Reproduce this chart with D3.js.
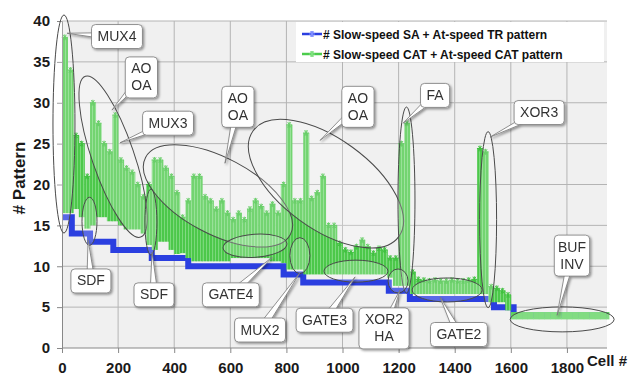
<!DOCTYPE html>
<html lang="en">
<head>
<meta charset="UTF-8">
<title>Patterns per cell</title>
<script src="https://cdn.jsdelivr.net/npm/d3@7/dist/d3.min.js"></script>
<style>
body { margin: 0; background: #fff; }
svg { display: block; font-family: Arial, "Liberation Sans", sans-serif; }
.tick text { font-weight: bold; font-size: 15px; fill: #1a1a1a; font-family: Arial, "Liberation Sans", sans-serif; }
.callout text { font-size: 14px; fill: #333; }
</style>
</head>
<body>
<script>
// cells are grouped in bins of 20, each bin keeps its highest and lowest pattern count
const binSize = 20
const greenHigh = [38, 34, 26, 25, 21, 30, 27.5, 25, 24, 28.5,
    23, 22, 21.5, 20, 18.5, 20, 23, 23, 22, 21,
    19, 16, 18, 21, 21, 18.5, 18, 17, 18, 16.5,
    15.7, 16.5, 15.7, 17, 18, 17.3, 16.5, 17.6, 16.5, 20,
    27.3, 18, 18, 26.3, 18.3, 19, 21, 15, 15, 12.8,
    12, 11.7, 12.4, 13.2, 12.4, 11.6, 12.2, 12, 11, 11,
    25, 27.5, 9.3, 8.4, 8.3, 8.2, 8.3, 8.2, 8.2, 8.3,
    8.2, 8.2, 8.3, 8.4, 24.4, 24, 7.5, 7.3, 7, 6.5,
    4.4, 4.4, 4.4, 4.4, 4.4, 4.4, 4.4, 4.4, 4.4, 4.4,
    4.4, 4.4, 4.4, 4.4, 4.4, 4.4, 4.4, 4.4]
const greenLow = [16.5, 16.5, 17, 16, 14.6, 15, 16, 16, 15.5, 15.5,
    15, 14.5, 14.5, 14.5, 14, 12.6, 12, 13, 13, 12,
    11.5, 11.6, 11, 10.6, 10.6, 10.6, 10.6, 10.6, 10.6, 10.6,
    11, 11, 11, 11, 11, 11, 11, 10.6, 10.6, 10.4,
    9.6, 9.6, 9.6, 9, 9, 9, 9, 9, 9, 9,
    9, 9, 9, 9, 9, 9, 9, 9, 8.6, 7.6,
    7.6, 7.6, 6.6, 6.6, 6.6, 6.6, 6.6, 6.6, 6.6, 6.6,
    6.6, 6.6, 6.6, 6.6, 6.6, 6.6, 5.6, 5.6, 5.6, 4.6,
    3.5, 3.5, 3.5, 3.5, 3.5, 3.5, 3.5, 3.5, 3.5, 3.5,
    3.5, 3.5, 3.5, 3.5, 3.5, 3.5, 3.5, 3.5]

// stuck-at + transition: one level per cell group
const blueStart = [0, 35, 100, 183, 320, 450, 790, 860, 1165, 1240, 1540, 1610]
const blueLevel = [16, 14, 13, 12, 11, 10, 9, 8, 7, 6, 5, 4]
const lastCell = 1950

const xTicks = [0, 200, 400, 600, 800, 1000, 1200, 1400, 1600, 1800]
const yTicks = [0, 5, 10, 15, 20, 25, 30, 35, 40]
const legendLabels = ["# Slow-speed SA + At-speed TR pattern", "# Slow-speed CAT + At-speed CAT pattern"]
const legendColors = ["#2b3fe0", "#4ccc4c"]

// cell-type groups: ellipse centre in (cell, pattern), ellipse radii in px, label box, pointer tip
const notes = [
    {text: ["MUX4"], c: [7, 27.4], r: [11, 109], rot: 0, box: [196, 38.1], tip: [18, 38.5]},
    {text: ["AO", "OA"], c: [182, 23.4], r: [21, 85], rot: -19, box: [283, 33.1], tip: [178, 29.1]},
    {text: ["MUX3"], c: null, box: [378, 27.5], tip: [207, 25.1]},
    {text: ["AO", "OA"], c: [556, 18.6], r: [82, 38], rot: 28, box: [627, 29.5], tip: [581, 22.6]},
    {text: ["AO", "OA"], c: [941, 20.1], r: [90, 45], rot: 36, box: [1055, 29.5], tip: [920, 25.4]},
    {text: ["FA"], c: [1228, 18.1], r: [8.5, 93], rot: 0, box: [1330, 30.9], tip: [1216, 27.5]},
    {text: ["XOR3"], c: [1519, 15.7], r: [8.5, 88], rot: 0, box: [1701, 28.8], tip: [1526, 25.8]},
    {text: ["SDF"], c: [98, 15.5], r: [7.5, 24], rot: 0, box: [103, 8.2], tip: [93, 13.2]},
    {text: ["SDF"], c: [317, 15.4], r: [6, 33], rot: 0, box: [328, 6.5], tip: [321, 11.7]},
    {text: ["GATE4"], c: [688, 12.5], r: [32, 11.5], rot: -4, box: [602, 6.5], tip: [749, 11.1]},
    {text: ["MUX2"], c: [848, 11.3], r: [10, 18], rot: 0, box: [706, 2.2], tip: [848, 9.2]},
    {text: ["GATE3"], c: [1048, 9.4], r: [32, 11], rot: 0, box: [936, 3.4], tip: [1045, 8.7]},
    {text: ["XOR2", "HA"], c: [1198, 8.2], r: [10, 12], rot: 0, box: [1148, 2.4], tip: [1205, 7.1]},
    {text: ["GATE2"], c: [1373, 7.1], r: [35, 12], rot: 0, box: [1415, 1.65], tip: [1348, 6.2]},
    {text: ["BUF", "INV"], c: [1783, 3.5], r: [52, 12.5], rot: 0, box: [1818, 11.3], tip: [1765, 4.0]}
]

const W = 639, H = 389
const svg = d3.select("body").append("svg").attr("width", W).attr("height", H)

const x = d3.scaleLinear().domain([0, lastCell]).range([62, 609])
const y = d3.scaleLinear().domain([0, 40]).range([348, 21])

const defs = svg.append("defs")
defs.append("filter").attr("id", "shadow")
    .attr("x", "-30%").attr("y", "-30%").attr("width", "160%").attr("height", "160%")
    .append("feDropShadow")
    .attr("dx", 1.5).attr("dy", 1.5).attr("stdDeviation", 1)
    .attr("flood-color", "#000").attr("flood-opacity", 0.4)
// thin vertical strokes, like a dense line of spikes
const pat = defs.append("pattern").attr("id", "spikes")
    .attr("patternUnits", "userSpaceOnUse").attr("width", 3).attr("height", 6)
pat.append("rect").attr("width", 3).attr("height", 6).attr("fill", "#7bd97b")
pat.append("rect").attr("width", 2).attr("height", 6).attr("fill", "#4cc84a")

// plot background + grid
svg.append("rect").attr("x", 62).attr("y", 21).attr("width", 607 - 62).attr("height", 348 - 21)
    .attr("fill", "#f0f0f0")
svg.append("g").selectAll("line").data(yTicks.slice(1)).join("line")
    .attr("x1", 62).attr("x2", 607).attr("y1", d => y(d)).attr("y2", d => y(d))
    .attr("stroke", "#b4b4b4")
svg.append("g").selectAll("line").data(xTicks.slice(1)).join("line")
    .attr("x1", d => x(d)).attr("x2", d => x(d)).attr("y1", 21).attr("y2", 348)
    .attr("stroke", "#b4b4b4")

// blue steps (drawn first, green sits on top of it)
const bluePts = blueStart.map((s, i) => [s, blueLevel[i]])
bluePts.push([lastCell, blueLevel[blueLevel.length - 1]])
svg.append("path")
    .attr("d", d3.line().x(d => x(d[0])).y(d => y(d[1])).curve(d3.curveStepAfter)(bluePts))
    .attr("fill", "none").attr("stroke", "#2b3fe0").attr("stroke-width", 6)

// green bins
const bins = greenHigh.map((h, i) => ({start: i * binSize, hi: h, lo: greenLow[i]}))
const g = svg.append("g")
g.selectAll("rect").data(bins).join("rect")
    .attr("x", d => x(d.start))
    .attr("width", d => x(Math.min(d.start + binSize, lastCell)) - x(d.start) + 0.4)
    .attr("y", d => y(d.hi))
    .attr("height", d => y(d.lo) - y(d.hi))
    .attr("fill", d => d.hi > 5 ? "url(#spikes)" : "#5fd25f")

const star = "M-3,0H3M-1.5,-2.6L1.5,2.6M-1.5,2.6L1.5,-2.6M0,-3V3"
g.selectAll(".mk").data(bins.filter(d => d.hi > 5)).join("path")
    .attr("class", "mk")
    .attr("transform", d => `translate(${x(d.start + binSize / 2)},${y(d.hi)})`)
    .attr("d", star).attr("stroke", "#3fc03f").attr("stroke-width", 1)

// axes
const yAxis = svg.append("g").attr("transform", "translate(62,0)")
    .call(d3.axisLeft(y).tickValues(yTicks).tickSize(5).tickPadding(7))
const xAxis = svg.append("g").attr("transform", "translate(0,348)")
    .call(d3.axisBottom(x).tickValues(xTicks).tickFormat(d3.format("d")).tickSize(5).tickPadding(9))
svg.selectAll(".domain, .tick line").attr("stroke", "#888")
xAxis.select(".domain").attr("d", "M62,0H607")

svg.append("text").attr("transform", "translate(21,178) rotate(-90)")
    .attr("text-anchor", "middle").attr("dominant-baseline", "middle")
    .attr("font-weight", "bold").attr("font-size", 17).attr("fill", "#1a1a1a")
    .text("# Pattern")
svg.append("text").attr("x", 587).attr("y", 366)
    .attr("font-weight", "bold").attr("font-size", 15).attr("fill", "#1a1a1a")
    .text("Cell #")

// legend
const leg = svg.append("g")
leg.append("rect").attr("x", 296).attr("y", 22).attr("width", 308).attr("height", 40).attr("fill", "#fff")
legendLabels.forEach((t, i) => {
    const ly = 34 + i * 20
    leg.append("line").attr("x1", 302).attr("x2", 322).attr("y1", ly).attr("y2", ly)
        .attr("stroke", legendColors[i]).attr("stroke-width", 2.5)
    leg.append("path").attr("transform", `translate(312,${ly})`).attr("d", star)
        .attr("stroke", i == 0 ? "#7d8cff" : "#7ee07e").attr("stroke-width", 1.2)
    leg.append("text").attr("x", 323).attr("y", ly + 4.5)
        .attr("font-weight", "bold").attr("font-size", 12).attr("fill", "#111")
        .text(t)
})

// ellipses
notes.filter(n => n.c).forEach(n => {
    svg.append("ellipse")
        .attr("transform", `translate(${x(n.c[0])},${y(n.c[1])}) rotate(${n.rot})`)
        .attr("rx", n.r[0]).attr("ry", n.r[1])
        .attr("fill", "#fff").attr("fill-opacity", 0.22)
        .attr("stroke", "#4a4a4a").attr("stroke-width", 1)
})

// callout boxes with pointer wedges
notes.forEach(n => {
    const co = svg.append("g").attr("class", "callout").attr("filter", "url(#shadow)")
    const bx = x(n.box[0]), by = y(n.box[1])
    const tx = x(n.tip[0]), ty = y(n.tip[1])
    const lines = n.text
    const tmp = co.append("text").text(lines.reduce((a, b) => a.length > b.length ? a : b))
    const tw = tmp.node().getComputedTextLength()
    tmp.remove()
    const bw = tw + 12, bh = lines.length * 17 + 7
    const ang = Math.atan2(ty - by, tx - bx)
    const px = Math.sin(ang) * 4, py = -Math.cos(ang) * 4
    co.append("path")
        .attr("d", `M${bx + px},${by + py}L${tx},${ty}L${bx - px},${by - py}Z`)
        .attr("fill", "#fff").attr("stroke", "#777").attr("stroke-width", 0.8)
    co.append("rect").attr("x", bx - bw / 2).attr("y", by - bh / 2)
        .attr("width", bw).attr("height", bh).attr("rx", 4)
        .attr("fill", "#fff").attr("stroke", "#777").attr("stroke-width", 0.8)
    lines.forEach((l, i) => {
        co.append("text").attr("x", bx).attr("text-anchor", "middle")
            .attr("y", by - bh / 2 + 3.5 + 13 + i * 17)
            .text(l)
    })
})
</script>
</body>
</html>
